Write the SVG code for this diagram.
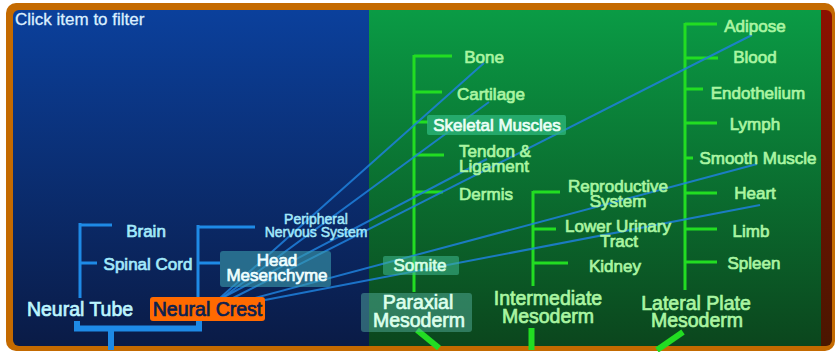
<svg xmlns="http://www.w3.org/2000/svg" width="836" height="352" viewBox="0 0 836 352">
<defs>
  <linearGradient id="gBlue" x1="0" y1="0" x2="0" y2="1">
    <stop offset="0" stop-color="#0b409c"/>
    <stop offset="1" stop-color="#0a1b46"/>
  </linearGradient>
  <linearGradient id="gGreen" x1="0" y1="0" x2="0" y2="1">
    <stop offset="0" stop-color="#0a9b45"/>
    <stop offset="1" stop-color="#0b461d"/>
  </linearGradient>
  <linearGradient id="gRed" x1="0" y1="0" x2="0" y2="1">
    <stop offset="0" stop-color="#8c1100"/>
    <stop offset="1" stop-color="#4a1600"/>
  </linearGradient>
  <clipPath id="panelClip">
    <rect x="13" y="10" width="819" height="336" rx="6"/>
  </clipPath>
</defs>
<style>
  text { font-family: "Liberation Sans", Arial, sans-serif; }
  .tb { fill: none; stroke: #1e8ae6; stroke-width: 3; }
  .tg { fill: none; stroke: #22dd22; stroke-width: 3; }
  .thickB { fill: none; stroke: #1e8ae6; stroke-width: 6; }
  .thickG { fill: none; stroke: #22dd22; stroke-width: 6; }
  .conn { stroke: #1f80dc; stroke-width: 2; opacity: 0.85; fill: none; }
  .lb { fill: #a3e9fb; font-size: 17px; stroke: #a3e9fb; stroke-width: 0.7; text-anchor: middle; }
  .lg { fill: #aaf5a2; font-size: 17px; stroke: #aaf5a2; stroke-width: 0.7; text-anchor: middle; }
  .big { font-size: 19.5px; }
  .small { font-size: 14px; stroke-width: 0.5; }
  .hl { fill: #ecfff6; stroke: #ecfff6; }
</style>

<!-- frame -->
<rect x="6" y="3" width="829" height="348" rx="10" fill="#c46a00"/>
<g clip-path="url(#panelClip)">
  <rect x="13" y="10" width="356" height="336" fill="url(#gBlue)"/>
  <rect x="369" y="10" width="452" height="336" fill="url(#gGreen)"/>
  <rect x="821" y="10" width="11" height="336" fill="url(#gRed)"/>
</g>

<text x="15" y="25" font-size="17" fill="#dcefff" stroke="#dcefff" stroke-width="0.3">Click item to filter</text>

<!-- tree lines and connectors -->
<g id="connectors">
  <!-- Neural tube tree -->
  <path class="tb" d="M80,223 V298 M80,225 H112 M80,263 H97"/>
  <!-- Neural crest tree -->
  <path class="tb" d="M198,225 V298 M198,227 H255 M198,263 H220"/>
  <!-- bottom bracket -->
  <path class="thickB" d="M77,321 V328.5 H199 V321" stroke-width="5"/>
  <path class="thickB" d="M111,329 V350"/>
  <!-- paraxial tree -->
  <path class="tg" d="M414,55 V292 M414,56 H452 M414,92 H442 M414,122 H428 M414,155 H444 M414,192 H443"/>
  <!-- intermediate tree -->
  <path class="tg" d="M533,191 V286 M533,192 H560 M533,229 H556 M533,263 H568"/>
  <!-- lateral plate tree -->
  <path class="tg" d="M685,23 V290 M685,24 H717 M685,58 H718 M685,89 H703 M685,123 H717 M685,158 H693 M685,193 H717 M685,229 H717 M685,262 H717"/>
  <!-- bottom green -->
  <path class="thickG" d="M417,330 L439,348"/>
  <path class="thickG" d="M531.5,328 V350"/>
  <path class="thickG" d="M683,332 L657,350"/>
  <!-- neural crest derivation lines -->
  <line class="conn" x1="220" y1="298" x2="484" y2="63"/>
  <line class="conn" x1="222" y1="298" x2="489" y2="102"/>
  <line class="conn" x1="222" y1="298" x2="487" y2="159"/>
  <line class="conn" x1="231" y1="299" x2="752" y2="35"/>
  <line class="conn" x1="251" y1="299" x2="757" y2="164"/>
  <line class="conn" x1="265" y1="300" x2="760" y2="205"/>
</g>

<!-- Neural tube side -->
<g id="brain"><text class="lb" x="146" y="237">Brain</text></g>
<g id="spinal-cord"><text class="lb" x="148" y="270">Spinal Cord</text></g>
<g id="neural-tube"><text class="lb big" x="80" y="316" style="fill:#bdf5ff;stroke:#bdf5ff">Neural Tube</text></g>
<g id="peripheral-nervous-system">
  <text class="lb small" x="316" y="224">Peripheral</text>
  <text class="lb small" x="316" y="237">Nervous System</text>
</g>
<g id="head-mesenchyme">
  <rect x="220" y="251" width="111" height="36" rx="3" fill="#3a9cae" opacity="0.6"/>
  <text class="lb" x="277" y="266" style="fill:#f0ffff;stroke:#f0ffff">Head</text>
  <text class="lb" x="277" y="281" style="fill:#f0ffff;stroke:#f0ffff">Mesenchyme</text>
</g>
<g id="neural-crest">
  <rect x="150" y="297" width="115" height="24" rx="3" fill="#ff6a00"/>
  <text class="lb big" x="207.5" y="316" style="fill:#0b2150;stroke:#0b2150">Neural Crest</text>
</g>

<!-- Paraxial -->
<g id="bone"><text class="lg" x="484" y="63">Bone</text></g>
<g id="cartilage"><text class="lg" x="491" y="100">Cartilage</text></g>
<g id="skeletal-muscles">
  <rect x="427" y="115" width="139" height="20" rx="2" fill="#2fb87e" opacity="0.75"/>
  <text class="lg" x="497" y="131" style="fill:#ecfff6;stroke:#ecfff6">Skeletal Muscles</text>
</g>
<g id="tendon-ligament">
  <text class="lg" x="495" y="157">Tendon &amp;</text>
  <text class="lg" x="494" y="172">Ligament</text>
</g>
<g id="dermis"><text class="lg" x="486" y="200">Dermis</text></g>
<g id="somite">
  <rect x="383" y="256" width="76" height="19" rx="2" fill="#3fb890" opacity="0.55"/>
  <text class="lg" x="420" y="271" style="fill:#d6ffe6;stroke:#d6ffe6">Somite</text>
</g>
<g id="paraxial-mesoderm">
  <rect x="361" y="293" width="111" height="39" rx="3" fill="#5ab8a8" opacity="0.45"/>
  <text class="lg big" x="418" y="309" style="fill:#dcffec;stroke:#dcffec">Paraxial</text>
  <text class="lg big" x="419" y="327" style="fill:#dcffec;stroke:#dcffec">Mesoderm</text>
</g>

<!-- Intermediate -->
<g id="reproductive-system">
  <text class="lg" x="618" y="192">Reproductive</text>
  <text class="lg" x="618" y="207">System</text>
</g>
<g id="lower-urinary-tract">
  <text class="lg" x="618" y="232">Lower Urinary</text>
  <text class="lg" x="619" y="247">Tract</text>
</g>
<g id="kidney"><text class="lg" x="615" y="272">Kidney</text></g>
<g id="intermediate-mesoderm">
  <text class="lg big" x="548" y="305">Intermediate</text>
  <text class="lg big" x="548" y="323">Mesoderm</text>
</g>

<!-- Lateral plate -->
<g id="adipose"><text class="lg" x="755" y="32">Adipose</text></g>
<g id="blood"><text class="lg" x="755" y="63">Blood</text></g>
<g id="endothelium"><text class="lg" x="758" y="99">Endothelium</text></g>
<g id="lymph"><text class="lg" x="755" y="130">Lymph</text></g>
<g id="smooth-muscle"><text class="lg" x="758" y="164">Smooth Muscle</text></g>
<g id="heart"><text class="lg" x="755" y="199">Heart</text></g>
<g id="limb"><text class="lg" x="751" y="237">Limb</text></g>
<g id="spleen"><text class="lg" x="754" y="269">Spleen</text></g>
<g id="lateral-plate-mesoderm">
  <text class="lg big" x="696" y="310">Lateral Plate</text>
  <text class="lg big" x="697" y="327">Mesoderm</text>
</g>
</svg>
